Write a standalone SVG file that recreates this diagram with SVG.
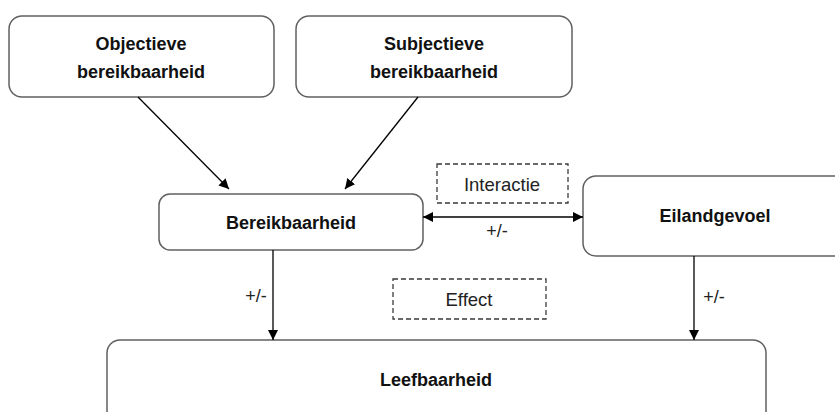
<svg xmlns="http://www.w3.org/2000/svg" width="835" height="412" viewBox="0 0 835 412">
  <style>
    .box { fill: #ffffff; stroke: #606060; stroke-width: 1.5; }
    .note { fill: #ffffff; stroke: #3a3a3a; stroke-width: 1.3; stroke-dasharray: 5 3; }
    .title { font-family: "Liberation Sans", Arial, sans-serif; font-weight: bold; font-size: 18px; fill: #111111; text-anchor: middle; }
    .plain { font-family: "Liberation Sans", Arial, sans-serif; font-size: 18.5px; fill: #222222; text-anchor: middle; }
    .sign { font-family: "Liberation Sans", Arial, sans-serif; font-size: 18px; fill: #222222; text-anchor: middle; }
    .link { stroke: #000000; stroke-width: 1.3; fill: none; }
  </style>
  <defs>
    <marker id="head" viewBox="0 0 10 10" refX="10" refY="5" markerWidth="10" markerHeight="10" markerUnits="userSpaceOnUse" orient="auto-start-reverse">
      <path d="M0,0 L10,5 L0,10 Z" fill="#000000"/>
    </marker>
  </defs>

  <rect width="835" height="412" fill="#ffffff"/>

  <g id="objectieve">
    <rect class="box" x="9" y="16" width="265" height="81" rx="13"/>
    <text class="title" x="141" y="50">Objectieve</text>
    <text class="title" x="141" y="78">bereikbaarheid</text>
  </g>

  <g id="subjectieve">
    <rect class="box" x="296" y="16" width="276" height="81" rx="13"/>
    <text class="title" x="434" y="50">Subjectieve</text>
    <text class="title" x="434" y="78">bereikbaarheid</text>
  </g>

  <g id="bereikbaarheid">
    <rect class="box" x="159" y="194" width="264" height="56" rx="11"/>
    <text class="title" x="291" y="229">Bereikbaarheid</text>
  </g>

  <g id="eilandgevoel">
    <rect class="box" x="583" y="176" width="265" height="80" rx="13"/>
    <text class="title" x="715" y="222">Eilandgevoel</text>
  </g>

  <g id="leefbaarheid">
    <rect class="box" x="107" y="340" width="659" height="85" rx="13"/>
    <text class="title" x="436" y="386">Leefbaarheid</text>
  </g>

  <g id="interactie">
    <rect class="note" x="437" y="164" width="131" height="39"/>
    <text class="plain" x="502" y="191">Interactie</text>
  </g>

  <g id="effect">
    <rect class="note" x="393" y="279" width="153" height="40"/>
    <text class="plain" x="469" y="306">Effect</text>
  </g>

  <g id="connectors">
    <line class="link" x1="138" y1="97" x2="229" y2="189" marker-end="url(#head)"/>
    <line class="link" x1="418" y1="97" x2="345" y2="189" marker-end="url(#head)"/>
    <line class="link" x1="423" y1="217" x2="583" y2="217" marker-start="url(#head)" marker-end="url(#head)"/>
    <line class="link" x1="273" y1="250" x2="273" y2="340" marker-end="url(#head)"/>
    <line class="link" x1="694" y1="256" x2="694" y2="340" marker-end="url(#head)"/>
    <text class="sign" x="497" y="237">+/-</text>
    <text class="sign" x="256" y="302">+/-</text>
    <text class="sign" x="714" y="303">+/-</text>
  </g>
</svg>
